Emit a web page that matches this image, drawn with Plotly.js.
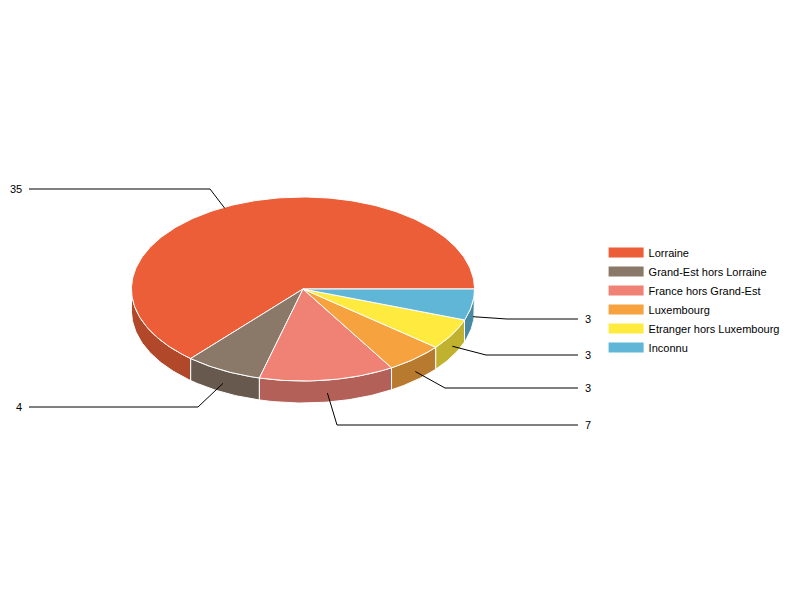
<!DOCTYPE html>
<html>
<head>
<meta charset="utf-8">
<script src="https://cdn.plot.ly/plotly-3.0.1.min.js"></script>
<style>html,body{margin:0;padding:0;background:#fff}#chart{width:800px;height:600px}</style>
</head>
<body>
<div id="chart"></div>
<script>
const categories = ["Lorraine", "Grand-Est hors Lorraine", "France hors Grand-Est", "Luxembourg", "Etranger hors Luxembourg", "Inconnu"];
const values = [35, 4, 7, 3, 3, 3];
const topColors = ["#EB5E37", "#8A7869", "#EF8275", "#F5A23F", "#FFEB3F", "#5FB6D6"];
const wallColors = ["#B14829", "#67594E", "#B36158", "#B87A2F", "#C0B12F", "#478AA2"];

// Pie geometry, in pixels on a 0-800 / 0-600 axis pair
const cx = 303, cy = 289, rx = 171.5, ry = 92, depth = 22;
// Leader layout for each slice: elbow x, label y, nudge at the anchor
const elbowX = [210, 198, 337, 445, 486, 507];
const labelY = [189, 407, 425, 388, 355, 319];
const labelSide = ["left", "left", "right", "right", "right", "right"];
const anchorNudge = [[-7, 3], [0, 13], [0, 13], [0, 13], [0, 12], [1, 12]];
const leftEndX = 29, rightEndX = 578;

const rad = d => d * Math.PI / 180;
const px = t => cx + rx * Math.cos(rad(t));
const py = (t, dz) => cy - ry * Math.sin(rad(t)) + (dz || 0);
function arc(a, b, dz) {
  const xs = [], ys = [];
  const n = Math.max(2, Math.ceil(Math.abs(b - a)));
  for (let i = 0; i <= n; i++) {
    const t = a + (b - a) * i / n;
    xs.push(px(t)); ys.push(py(t, dz));
  }
  return [xs, ys];
}

const total = values.reduce((s, v) => s + v, 0);
const starts = [];
values.reduce((acc, v, i) => { starts[i] = acc; return acc + v / total * 360; }, 0);
const ends = values.map((v, i) => starts[i] + v / total * 360);

const walls = [], tops = [], leaders = [], legendKeys = [], annotations = [];
categories.forEach((name, i) => {
  const a = starts[i], b = ends[i];
  const label = name + ": " + values[i];
  const lo = Math.max(a, 180);
  if (b > lo) {
    const [x1, y1] = arc(lo, b, 0);
    const [x2, y2] = arc(b, lo, depth);
    walls.push({
      x: x1.concat(x2, [x1[0]]), y: y1.concat(y2, [y1[0]]),
      type: "scatter", mode: "lines", fill: "toself", fillcolor: wallColors[i],
      line: { color: "#ffffff", width: 1 }, showlegend: false, text: label, hoverinfo: "text"
    });
  }
  const [xa, ya] = arc(a, b, 0);
  tops.push({
    x: [cx].concat(xa, [cx]), y: [cy].concat(ya, [cy]),
    type: "scatter", mode: "lines", fill: "toself", fillcolor: topColors[i],
    line: { color: "#ffffff", width: 1 }, showlegend: false, text: label, hoverinfo: "text"
  });
  const mid = (a + b) / 2;
  const ax = px(mid) + anchorNudge[i][0], ay = py(mid) + anchorNudge[i][1];
  const isLeft = labelSide[i] === "left";
  leaders.push({
    x: [ax, elbowX[i], isLeft ? leftEndX : rightEndX], y: [ay, labelY[i], labelY[i]],
    type: "scatter", mode: "lines", line: { color: "#000000", width: 1 },
    showlegend: false, hoverinfo: "skip"
  });
  annotations.push({
    x: isLeft ? 24 : 583, y: labelY[i], xref: "x", yref: "y",
    xanchor: isLeft ? "right" : "left", yanchor: "middle", showarrow: false,
    text: String(values[i]), font: { family: "Liberation Sans, Arial, sans-serif", size: 11, color: "#000000" }
  });
  legendKeys.push({
    x: [null], y: [null], name: name, type: "scatter", mode: "lines",
    line: { color: topColors[i], width: 10 }, showlegend: true, hoverinfo: "skip"
  });
});

const layout = {
  width: 800, height: 600, margin: { l: 0, r: 0, t: 0, b: 0 },
  paper_bgcolor: "#ffffff", plot_bgcolor: "#ffffff",
  xaxis: { range: [0, 800], visible: false, fixedrange: true },
  yaxis: { range: [600, 0], visible: false, fixedrange: true },
  hovermode: "closest", annotations: annotations,
  legend: {
    x: 0.7545, xanchor: "left", y: 300 / 600, yanchor: "middle", itemwidth: 35,
    bgcolor: "rgba(0,0,0,0)", traceorder: "normal", itemclick: false, itemdoubleclick: false,
    font: { family: "Liberation Sans, Arial, sans-serif", size: 11, color: "#000000" }
  }
};
Plotly.newPlot("chart", walls.concat(tops, leaders, legendKeys), layout, { displayModeBar: false });
</script>
</body>
</html>
